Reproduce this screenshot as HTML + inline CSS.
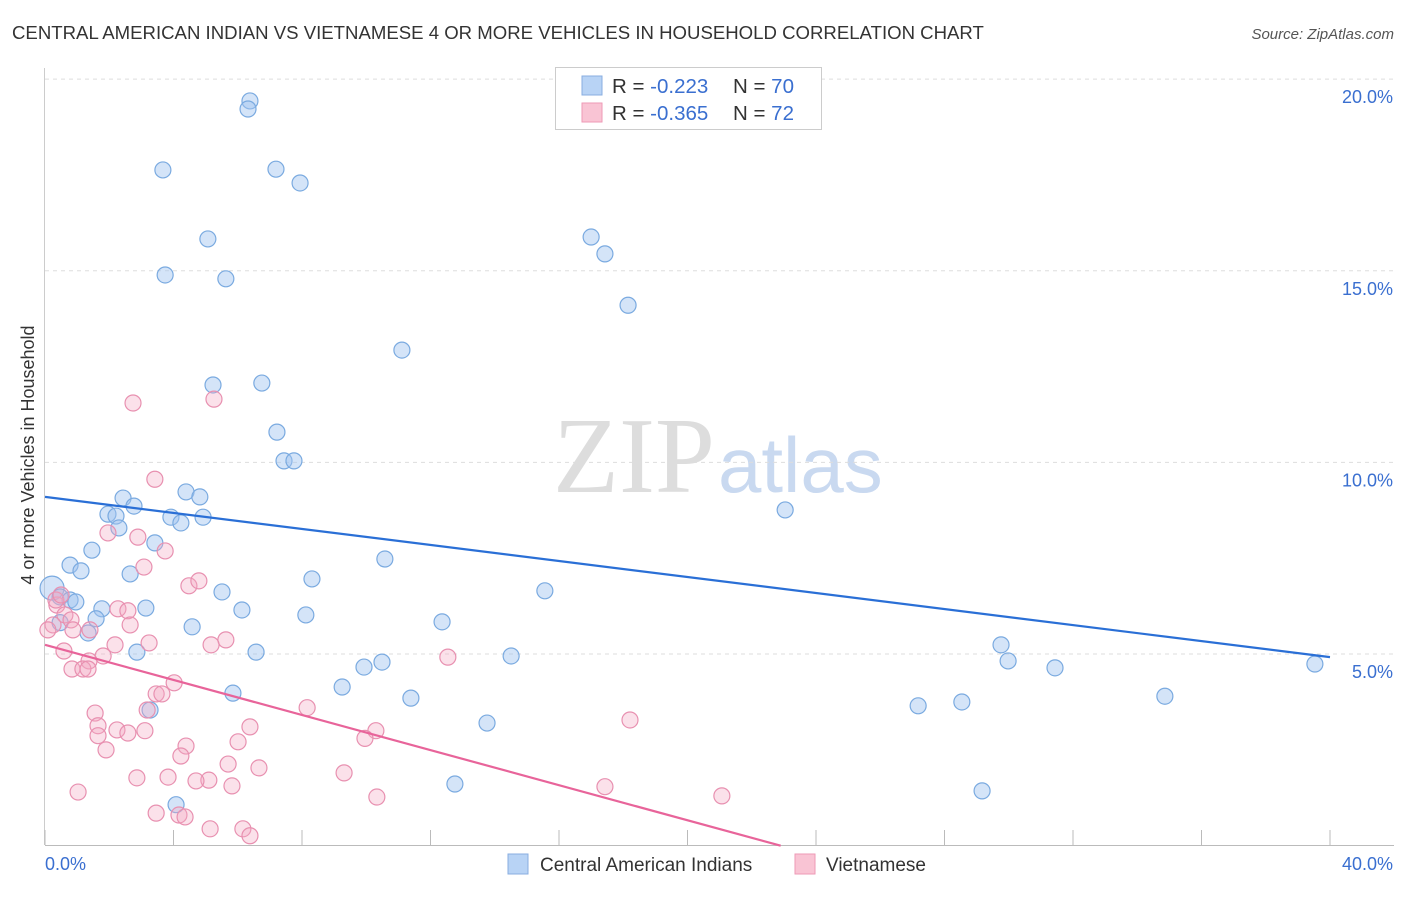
<!DOCTYPE html>
<html><head><meta charset="utf-8"><style>
body{margin:0;background:#fff;font-family:"Liberation Sans",sans-serif;}
svg text{font-family:"Liberation Sans",sans-serif;}
</style></head><body>
<svg id="chart" width="1406" height="892" xmlns="http://www.w3.org/2000/svg">
<text x="12" y="39" font-size="18.6" fill="#333">CENTRAL AMERICAN INDIAN VS VIETNAMESE 4 OR MORE VEHICLES IN HOUSEHOLD CORRELATION CHART</text>
<text x="1394" y="39" font-size="15" fill="#555" font-style="italic" text-anchor="end">Source: ZipAtlas.com</text>
<text transform="translate(34,455) rotate(-90)" font-size="18" fill="#333" text-anchor="middle">4 or more Vehicles in Household</text>
<g><text x="553" y="492" font-size="108" fill="#ddd" style="font-family:'Liberation Serif',serif">ZIP</text><text x="718" y="492" font-size="78" fill="#c9d9f0">atlas</text></g>
<g id="grid"></g><g id="axes"></g><g id="pts"></g><g id="lines"></g>
<g>
<rect x="555.5" y="67.5" width="266" height="62" fill="#fff" stroke="#ccc"/>
<rect x="582" y="76" width="20" height="19" fill="#b8d3f5" stroke="#88aee0"/>
<text x="612" y="93" font-size="20.5" fill="#333">R = <tspan fill="#3a6fd0">-0.223</tspan><tspan x="733">N = </tspan><tspan fill="#3a6fd0">70</tspan></text>
<rect x="582" y="103" width="20" height="19" fill="#f9c4d4" stroke="#ee9ab6"/>
<text x="612" y="120" font-size="20.5" fill="#333">R = <tspan fill="#3a6fd0">-0.365</tspan><tspan x="733">N = </tspan><tspan fill="#3a6fd0"> 72</tspan></text>
</g>
<g>
<rect x="508" y="854" width="20" height="20" fill="#b8d3f5" stroke="#88aee0"/>
<text x="540" y="871" font-size="19" fill="#333">Central American Indians</text>
<rect x="795" y="854" width="20" height="20" fill="#f9c4d4" stroke="#ee9ab6"/>
<text x="826" y="871" font-size="19" fill="#333">Vietnamese</text>
</g>
</svg>
<script>
const yTicks=[5,10,15,20];
const yTickLabels=["5.0%","10.0%","15.0%","20.0%"];
const xEndLabels=["0.0%","40.0%"];
const blueX=[6.38,6.32,3.67,7.19,7.94,5.07,3.74,5.63,17.0,17.43,18.15,11.11,5.23,6.75,7.22,7.44,7.75,4.39,4.82,2.43,2.77,1.96,2.21,3.92,4.23,4.92,2.3,23.04,3.42,1.46,10.58,0.78,1.12,2.65,8.31,5.51,15.56,0.22,0.47,0.78,0.96,1.77,3.14,6.13,8.12,1.59,0.47,1.34,4.58,12.36,29.76,29.98,6.57,2.86,10.49,9.93,14.51,31.44,39.53,9.25,5.85,11.39,34.86,28.54,27.18,3.27,13.76,12.76,29.17,4.08];
const blueY=[19.43,19.22,17.63,17.65,17.29,15.83,14.89,14.79,15.88,15.44,14.1,12.93,12.02,12.07,10.79,10.04,10.04,9.23,9.1,9.07,8.86,8.65,8.6,8.57,8.42,8.57,8.29,8.76,7.9,7.71,7.48,7.32,7.17,7.09,6.96,6.62,6.65,6.72,6.49,6.41,6.36,6.18,6.2,6.15,6.02,5.92,5.82,5.55,5.71,5.84,5.24,4.82,5.05,5.05,4.79,4.66,4.95,4.64,4.74,4.14,3.98,3.85,3.9,3.75,3.65,3.54,3.2,1.61,1.43,1.07];
const pinkX=[2.74,5.26,3.42,1.96,2.89,3.74,3.08,4.48,4.79,2.27,2.58,0.37,0.62,0.81,0.25,1.4,0.87,2.65,5.63,5.17,3.24,2.18,0.59,1.81,1.37,12.54,0.84,1.18,1.34,4.02,3.46,3.64,8.16,3.18,1.56,1.65,2.24,2.58,1.65,3.11,6.38,10.3,9.96,18.21,6.01,4.39,4.23,1.9,5.7,6.66,2.86,3.83,9.31,5.1,4.7,5.82,17.43,1.03,10.33,21.07,3.46,4.17,4.36,5.14,6.16,6.38,0.09,0.34,0.5];
const pinkY=[11.55,11.65,9.56,8.16,8.05,7.69,7.27,6.78,6.91,6.18,6.13,6.28,6.02,5.89,5.76,5.63,5.63,5.76,5.37,5.24,5.29,5.24,5.08,4.95,4.82,4.92,4.61,4.61,4.61,4.25,3.96,3.96,3.6,3.54,3.46,3.13,3.02,2.94,2.87,3.0,3.1,3.0,2.8,3.28,2.71,2.6,2.34,2.5,2.13,2.03,1.77,1.79,1.9,1.71,1.69,1.56,1.54,1.4,1.27,1.3,0.85,0.8,0.75,0.44,0.44,0.26,5.63,6.41,6.54];
const blueTrend=[9.1,4.92];
const pinkTrend=[5.24,0];
const pinkTrendEndX=22.9;
const NS="http://www.w3.org/2000/svg";
const X=v=>45+v*32.125, Y=v=>845.7-v*38.33;
function mk(t,a,p){const e=document.createElementNS(NS,t);for(const k in a)e.setAttribute(k,a[k]);document.getElementById(p).appendChild(e);return e;}
yTicks.forEach((t,i)=>{
 const l=mk('line',{x1:45,x2:1394,y1:Y(t),y2:Y(t),stroke:'#ddd','stroke-dasharray':'4,4'},'grid');
 
 
 const tx=mk('text',{x:1393,y:Y(t)+24,'font-size':18,fill:'#3a6fd0','text-anchor':'end'},'axes');
 tx.textContent=yTickLabels[i];
 
 
});
const ax=mk('line',{x1:45,x2:1394,y1:845.5,y2:845.5,stroke:'#bbb'},'axes');


const ay=mk('line',{x1:44.5,x2:44.5,y1:68,y2:845,stroke:'#ccc'},'axes');


for(let v=0;v<=40;v+=4){const t=mk('line',{x1:X(v),x2:X(v),y1:830,y2:845,stroke:'#bbb'},'axes');
 
 }
[[0,45,'start'],[40,1393,'end']].forEach((d,i)=>{const t=mk('text',{x:d[1],y:870,'font-size':18,fill:'#3a6fd0','text-anchor':d[2]},'axes');t.textContent=xEndLabels[i];
 
 });
blueX.forEach((v,i)=>{const c=mk('circle',{cx:X(v),cy:Y(blueY[i]),r:(i==37?12:8),fill:'rgba(160,196,240,0.45)',stroke:'#7aaae0','stroke-width':1.2},'pts');
 
 });
pinkX.forEach((v,i)=>{const c=mk('circle',{cx:X(v),cy:Y(pinkY[i]),r:8,fill:'rgba(244,170,196,0.35)',stroke:'#e890b0','stroke-width':1.2},'pts');
 
 });
const bl=mk('line',{x1:X(0),y1:Y(blueTrend[0]),x2:X(40),y2:Y(blueTrend[1]),stroke:'#2a6fd6','stroke-width':2.2},'lines');


const pl=mk('line',{x1:X(0),y1:Y(pinkTrend[0]),x2:X(pinkTrendEndX),y2:Y(pinkTrend[1]),stroke:'#e8649a','stroke-width':2.2},'lines');


</script>
</body></html>
